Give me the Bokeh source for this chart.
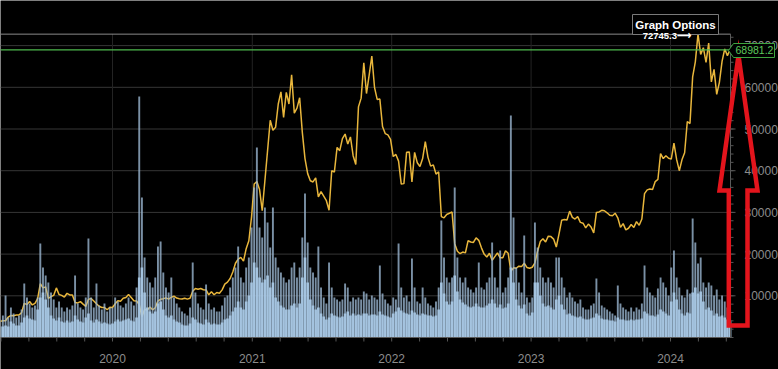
import pandas as pd
from bokeh.plotting import figure
from bokeh.core.properties import value
from bokeh.models import Range1d
from bokeh.embed import file_html
from bokeh.resources import INLINE

# ---- weekly closing prices (USD), one value per week starting 2019-03-13 ----
price_2019 = [3870, 4000, 4030, 4900, 5300, 5230, 5400, 5400, 5950, 8200, 7900, 8650,
              7800, 8200, 9300, 12900, 11900, 12100, 9400, 9800, 10100, 11900, 10300, 10100,
              9700, 10600, 10200, 10200, 8400, 8300, 8600, 8000, 7450, 9150, 9340, 8750,
              8100, 7500, 7200, 7200, 6650, 7250]
price_2020 = [7200, 8080, 8800, 8680, 9400, 9600, 10300, 9600, 8800, 8750, 7900, 5000,
              6700, 6600, 7300, 6640, 7130, 8800, 9150, 9300, 9500, 9200, 9650, 9900,
              9450, 9300, 9230, 9430, 9200, 9400, 11100, 11750, 11570, 11750, 11450, 11400,
              10240, 10950, 10240, 10780, 10600, 11430, 12800, 13270, 14150, 15700, 17800,
              18800, 19200, 18300, 21300, 23200, 28900]
price_2021 = [36800, 37400, 35500, 30400, 37600, 44800, 52100, 49700, 50400, 56000, 58900,
              52800, 58800, 56000, 63000, 53800, 55000, 57500, 49200, 42900, 39300, 37600,
              37300, 38300, 33700, 35000, 33900, 32800, 30500, 40000, 39700, 45600, 44800,
              47700, 48800, 46400, 48100, 43600, 41500, 55300, 57400, 65900, 58500, 62900,
              67500, 60000, 57100, 57200, 50600, 48900, 48600, 47500]
price_2022 = [43400, 43900, 42300, 36800, 36900, 44400, 44500, 37300, 44400, 41900, 41000,
              42900, 47000, 43200, 41100, 41400, 39200, 39700, 29000, 28700, 29500, 29800,
              30100, 22500, 20700, 20100, 20500, 20300, 23200, 22900, 22800, 23900, 23300,
              21500, 20000, 19300, 20200, 18500, 19400, 20300, 19100, 19100, 20800, 20200,
              15900, 16700, 16600, 17100, 17000, 17800, 16800, 16600]
price_2023 = [16850, 17900, 20700, 23000, 23700, 22900, 24300, 24200, 23600, 21700, 24800,
              28100, 28300, 28200, 30300, 28800, 28400, 29000, 27600, 27400, 26300, 27200,
              26500, 25100, 30000, 30100, 30500, 30400, 29900, 29300, 29200, 29800, 28700,
              26400, 27300, 25800, 26200, 27100, 26400, 27800, 26900, 28400, 34500, 35400,
              35600, 35500, 37400, 37900, 44100, 42900, 43600, 43000]
price_2024 = [42800, 46600, 42700, 40000, 42600, 44300, 51800, 51300, 62500, 66100, 72745.3,
              67900, 69500, 66000, 70600, 61300, 64300, 58300, 61200, 66200, 69200, 67600,
              68981.2]

# ---- weekly volume (arbitrary units): typical level (low) and peak day (high) ----
vol_low_2019 = [11, 11, 12, 11, 16, 14, 12, 12, 15, 20, 22, 19, 18, 17, 28, 40, 45, 38, 30,
                22, 19, 17, 20, 16, 15, 17, 15, 16, 22, 18, 16, 15, 20, 24, 17, 15, 18, 16,
                14, 15, 14, 13]
vol_high_2019 = [18, 22, 42, 20, 30, 24, 20, 22, 28, 54, 40, 34, 30, 32, 40, 94, 70, 62, 55,
                 45, 38, 30, 36, 30, 26, 30, 28, 32, 62, 34, 30, 28, 40, 99, 40, 30, 54, 32,
                 28, 34, 26, 30]
vol_low_2020 = [14, 16, 18, 16, 17, 18, 19, 17, 16, 20, 60, 70, 45, 30, 26, 24, 26, 34, 36,
                28, 22, 20, 22, 18, 16, 15, 13, 12, 12, 14, 20, 18, 15, 14, 13, 18, 15, 13,
                14, 13, 13, 15, 18, 19, 22, 26, 30, 36, 30, 28, 36, 42, 55]
vol_high_2020 = [30, 40, 36, 32, 30, 34, 40, 36, 32, 50, 241, 140, 80, 60, 55, 50, 60, 91,
                 96, 65, 50, 45, 60, 40, 34, 30, 26, 24, 22, 30, 75, 45, 34, 30, 28, 53, 34,
                 28, 30, 26, 26, 32, 40, 42, 50, 60, 70, 91, 60, 55, 70, 80, 110]
vol_low_2021 = [75, 70, 60, 55, 58, 62, 50, 55, 40, 36, 32, 30, 28, 28, 32, 34, 30, 34, 60,
                80, 55, 38, 32, 28, 30, 24, 21, 18, 20, 24, 22, 21, 20, 21, 24, 26, 22, 24,
                22, 23, 22, 24, 24, 22, 23, 23, 22, 26, 23, 22, 21, 20]
vol_high_2021 = [150, 190, 110, 100, 130, 115, 90, 130, 80, 70, 65, 60, 55, 58, 70, 75, 60,
                 70, 100, 144, 95, 70, 65, 60, 91, 50, 40, 34, 75, 50, 40, 38, 36, 38, 54, 50,
                 36, 40, 38, 40, 38, 46, 44, 38, 42, 40, 38, 72, 44, 38, 34, 32]
vol_low_2022 = [24, 26, 30, 27, 25, 24, 23, 27, 25, 23, 22, 24, 23, 22, 22, 21, 22, 28, 55,
                44, 36, 33, 36, 62, 46, 38, 35, 33, 31, 30, 31, 34, 31, 30, 30, 32, 34, 38,
                34, 30, 33, 29, 30, 34, 70, 55, 38, 32, 29, 33, 24, 22]
vol_high_2022 = [40, 38, 94, 50, 40, 42, 36, 79, 50, 36, 34, 50, 40, 34, 32, 30, 36, 50, 117,
                 80, 60, 55, 60, 150, 80, 60, 55, 60, 50, 48, 45, 50, 75, 50, 48, 55, 60, 95,
                 60, 50, 87, 45, 50, 60, 222, 120, 70, 55, 45, 102, 40, 35]
vol_low_2023 = [25, 55, 55, 42, 34, 31, 32, 30, 28, 38, 42, 33, 28, 23, 24, 22, 21, 20, 21,
                19, 18, 18, 19, 20, 24, 22, 19, 18, 18, 17, 17, 16, 20, 18, 18, 17, 17, 18,
                17, 18, 18, 19, 26, 24, 22, 22, 21, 23, 28, 26, 24, 22]
vol_high_2023 = [40, 115, 90, 70, 60, 55, 60, 55, 50, 80, 80, 60, 50, 40, 45, 40, 36, 34, 38,
                 30, 28, 28, 32, 34, 59, 45, 32, 30, 28, 26, 24, 22, 52, 34, 30, 28, 26, 30,
                 26, 30, 28, 34, 72, 50, 45, 42, 40, 49, 60, 55, 50, 42]
vol_low_2024 = [36, 45, 38, 28, 24, 22, 25, 24, 45, 50, 44, 46, 36, 28, 30, 27, 22, 24, 21,
                22, 20, 18, 17]
vol_high_2024 = [70, 87, 60, 50, 42, 40, 48, 44, 119, 95, 74, 80, 55, 50, 55, 52, 42, 48, 38,
                 42, 36, 30, 28]

year_ticks = [2020, 2021, 2022, 2023, 2024]
price_ticks = [10000, 20000, 30000, 40000, 50000, 60000, 70000]
menu_label = "Graph Options"

prices = price_2019 + price_2020 + price_2021 + price_2022 + price_2023 + price_2024
vol_low = vol_low_2019 + vol_low_2020 + vol_low_2021 + vol_low_2022 + vol_low_2023 + vol_low_2024
vol_high = (vol_high_2019 + vol_high_2020 + vol_high_2021 + vol_high_2022 + vol_high_2023
            + vol_high_2024)
dates = pd.date_range("2019-03-13", periods=len(prices), freq="7D")

max_price = max(prices)
last_price = prices[-1]
max_date = dates[prices.index(max_price)]

# ---- layout helpers (pixel positions of the panel -> data coordinates) ----
W, H = 778, 369
DAY = 86400000.0
PX_PER_DAY = 139.5 / 365.25        # horizontal scale
PPX = 10000 / 41.7                  # price units per pixel
ORIGIN = pd.Timestamp("2020-01-01").value / 1e6
ORIGIN_PX = 112
BASE_PX = 337                        # pixel row of price 0
RIGHT_PX = 730                       # right edge of the plotting area
TOP_PRICE = 72800


def xd(px):
    return ORIGIN + (px - ORIGIN_PX) / PX_PER_DAY * DAY


def yp(py):
    return (BASE_PX - py) * PPX


def ms(ts):
    return ts.value / 1e6


X_END = xd(RIGHT_PX)

p = figure(width=W, height=H, x_axis_location=None, y_axis_location=None,
           x_range=Range1d(xd(0), xd(W)), y_range=Range1d(yp(H), yp(0)),
           output_backend="svg", toolbar_location=None,
           min_border_left=0, min_border_right=0, min_border_top=0, min_border_bottom=0,
           background_fill_color="#000000", border_fill_color="#000000",
           outline_line_color=None)
p.grid.visible = False
p.extra_y_ranges = {"vol": Range1d(BASE_PX - H, BASE_PX)}

year_ms = [ms(pd.Timestamp(f"{y}-01-01")) for y in year_ticks]
minor_x = [ms(pd.Timestamp(f"{y}-01-01")) + k * 73.05 * DAY
           for y in range(2019, 2025) for k in range(5)]
minor_x = [m for m in minor_x if xd(0) < m < X_END]
minor_y = list(range(0, 72001, 2000))

# grid
p.segment(x0=[xd(0)] * len(price_ticks), x1=[X_END] * len(price_ticks),
          y0=price_ticks, y1=price_ticks, line_color="#363636", line_width=1)
p.segment(x0=year_ms, x1=year_ms, y0=[0] * len(year_ms), y1=[TOP_PRICE] * len(year_ms),
          line_color="#232323", line_width=1)

# price line under semi-transparent volume
p.line(x=dates, y=prices, line_color="#e8b63c", line_width=1.5)
p.vbar(x=dates, top=vol_high, width=5 * DAY, y_range_name="vol",
       fill_color="#9cb8d3", fill_alpha=0.78, line_color=None)
p.vbar(x=dates, top=vol_low, width=7 * DAY, y_range_name="vol",
       fill_color="#aacae7", fill_alpha=0.9, line_color=None)

# max / last price lines
p.segment(x0=[xd(0)], x1=[X_END], y0=[max_price], y1=[max_price],
          line_color="#8a8a8a", line_width=1)
p.segment(x0=[xd(0)], x1=[X_END], y0=[last_price], y1=[last_price],
          line_color="#4cb84c", line_width=1.2)

# bottom axis
p.segment(x0=[xd(0)], x1=[X_END], y0=[0], y1=[0], line_color="#5a5a5a", line_width=1)
p.segment(x0=minor_x, x1=minor_x, y0=[0] * len(minor_x), y1=[-4 * PPX] * len(minor_x),
          line_color="#555555", line_width=1)
p.text(x=year_ms, y=[yp(358)] * len(year_ms), text=[str(y) for y in year_ticks],
       text_align="center", text_baseline="middle", text_color="#8c8c8c",
       text_font=value("Liberation Sans"), text_font_size=value("12px"))

# right axis
p.segment(x0=[X_END], x1=[X_END], y0=[0], y1=[TOP_PRICE], line_color="#5a5a5a", line_width=1)
p.segment(x0=[X_END] * len(minor_y), x1=[xd(RIGHT_PX + 3)] * len(minor_y),
          y0=minor_y, y1=minor_y, line_color="#555555", line_width=1)
p.segment(x0=[X_END] * len(price_ticks), x1=[xd(RIGHT_PX + 5)] * len(price_ticks),
          y0=price_ticks, y1=price_ticks, line_color="#555555", line_width=1)
p.text(x=[xd(744)] * len(price_ticks), y=price_ticks, text=[str(v) for v in price_ticks],
       text_align="left", text_baseline="middle", text_color="#8c8c8c",
       text_font=value("Liberation Sans"), text_font_size=value("12px"))

# Graph Options box
p.quad(left=[xd(632)], right=[xd(718)], top=[yp(14)], bottom=[yp(34)],
       fill_color="#000000", line_color="#7a7a7a", line_width=1)
p.text(x=[xd(675)], y=[yp(24)], text=[menu_label], text_align="center",
       text_baseline="middle", text_color="#ffffff", text_font=value("Liberation Sans"),
       text_font_style="bold", text_font_size=value("11.5px"))

# max marker
p.text(x=[ms(max_date) - 7 / PX_PER_DAY * DAY], y=[max_price - 1.5 * PPX],
       text=[f"{max_price}\u27f6"], text_align="right", text_baseline="middle",
       text_color="#ffffff", text_font=value("Liberation Sans"), text_font_style="bold",
       text_font_size=value("9.5px"))

# red arrow
arrow_px = [(738, 55), (757, 190), (747, 190), (747, 325), (728.3, 325), (728.3, 190),
            (719, 190)]
p.patch(x=[xd(a) for a, b in arrow_px], y=[yp(b) for a, b in arrow_px],
        fill_color=None, line_color="#e3141c", line_width=4.5, line_join="miter")

# last price tag
tag_px = [(728, 50), (733, 43), (774, 43), (774, 57), (733, 57)]
p.patch(x=[xd(a) for a, b in tag_px], y=[yp(b) for a, b in tag_px],
        fill_color="#000000", line_color="#3fa53f", line_width=1)
p.text(x=[xd(735)], y=[last_price], text=[f"{last_price:.1f}"], text_align="left",
       text_baseline="middle", text_color="#5cc85c", text_font=value("Liberation Sans"),
       text_font_size=value("10.5px"))

open("out.html", "w").write(file_html(p, INLINE))
